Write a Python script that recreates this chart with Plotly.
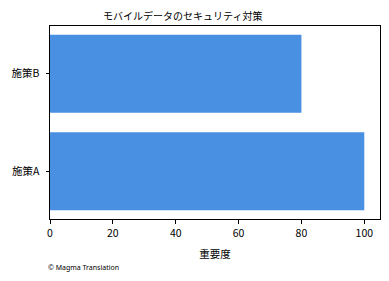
import plotly.graph_objects as go

categories = ["施策A", "施策B"]
values = [100, 80]
x_ticks = [0, 20, 40, 60, 80, 100]

font = "Noto Sans CJK JP"
L, R, T, B = 50, 9, 26, 62
W, H = 389, 281
pw, ph = W - L - R, H - T - B


def px(x):
    return (x - L) / pw


def py(y):
    return 1 - (y - T) / ph


fig = go.Figure(go.Bar(
    x=values, y=categories, orientation="h",
    marker=dict(color="#4a90e2", line=dict(width=0)), width=0.8,
))
fig.update_layout(
    width=W, height=H, margin=dict(l=L, r=R, t=T, b=B),
    paper_bgcolor="white", plot_bgcolor="white",
    font=dict(family=font, size=10.5, color="black"),
    showlegend=False,
)
fig.add_annotation(text="モバイルデータのセキュリティ対策", x=px(182), y=py(15),
                   xref="paper", yref="paper", showarrow=False,
                   font=dict(size=10), xanchor="center", yanchor="middle")
fig.add_annotation(text="© Magma Translation", x=px(46), y=py(267),
                   xref="paper", yref="paper", showarrow=False,
                   font=dict(size=7, family="Noto Sans"), xanchor="left", yanchor="middle")
fig.update_xaxes(range=[0, 105], tickvals=x_ticks, ticks="outside", ticklen=3.5, tickwidth=1,
                 tickcolor="black", showline=True, linecolor="black", linewidth=1, mirror=True,
                 showgrid=False, zeroline=False, ticklabelstandoff=1,
                 title=dict(text="重要度", font=dict(size=10.5), standoff=11))
fig.update_yaxes(range=[-0.49, 1.49], ticks="outside", ticklen=3.5, tickwidth=1,
                 tickcolor="black", showline=True, linecolor="black", linewidth=1, mirror=True,
                 showgrid=False, zeroline=False, ticklabelstandoff=4)
fig.write_html("out.html")
